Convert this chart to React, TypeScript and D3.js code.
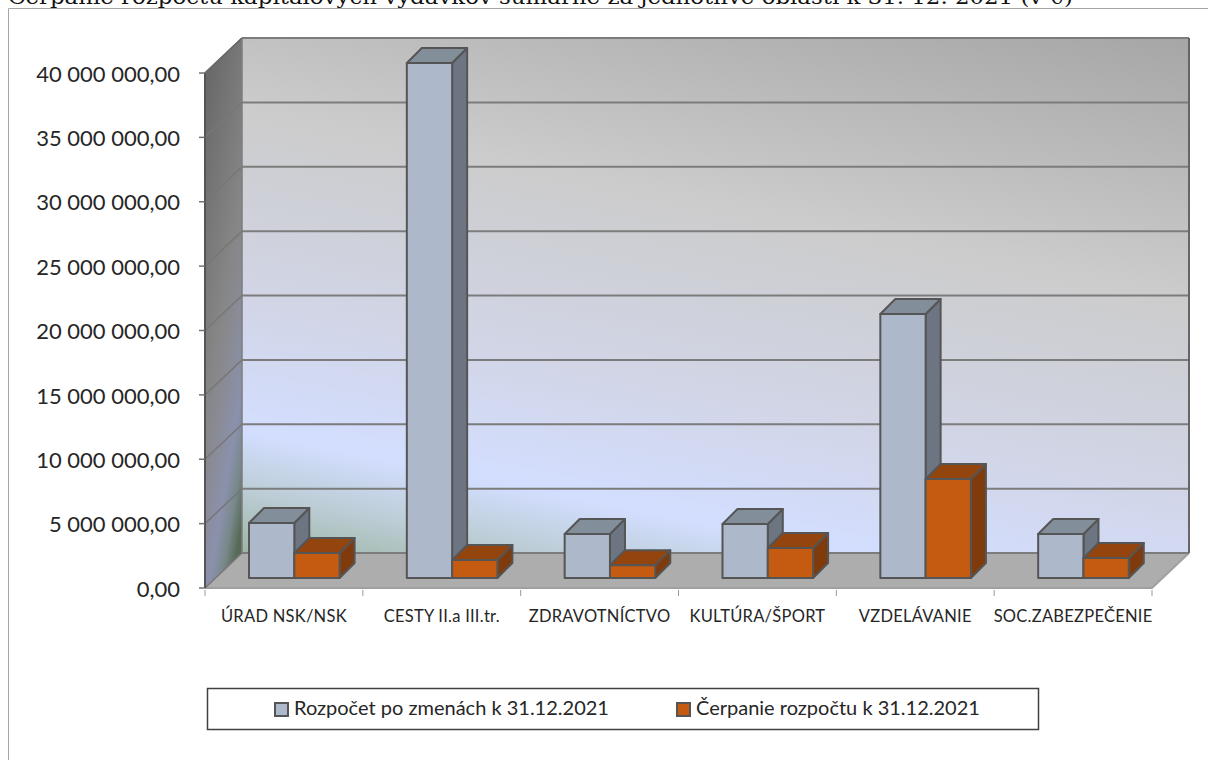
import React from "react";
import * as d3 from "d3";

const titleText = "Čerpanie rozpočtu kapitálových výdavkov sumárne za jednotlivé oblasti k 31. 12. 2021 (v €)";
const categories = ["ÚRAD NSK/NSK", "CESTY II.a III.tr.", "ZDRAVOTNÍCTVO", "KULTÚRA/ŠPORT", "VZDELÁVANIE", "SOC.ZABEZPEČENIE"];
const budget = [4270000, 40000000, 3420000, 4190000, 20500000, 3420000];
const spent = [1940000, 1400000, 1000000, 2330000, 7690000, 1550000];
const tickValues = [0, 5000000, 10000000, 15000000, 20000000, 25000000, 30000000, 35000000, 40000000];
const tickLabels = ["0,00", "5 000 000,00", "10 000 000,00", "15 000 000,00", "20 000 000,00", "25 000 000,00", "30 000 000,00", "35 000 000,00", "40 000 000,00"];
const legendLabels = ["Rozpočet po zmenách k 31.12.2021", "Čerpanie rozpočtu k 31.12.2021"];

const series = [
  { values: budget, front: "#adb9ca", top: "#838e9b", side: "#6d7582" },
  { values: spent, front: "#c55a11", top: "#94440d", side: "#7f3b0b" },
];

const y = d3.scaleLinear().domain([0, 40000000]).range([588, 73]);
const x = d3.scaleBand<string>().domain(categories).range([205, 1152]);
const wallDx = 37;
const wallDy = -35;
const barW = 45.3;
const barPad = 44;
const barLift = 10;
const depth = 15;
const sans = "Lato, 'Open Sans', sans-serif";

const pts = (a: number[][]) => a.map((p) => p.join(",")).join(" ");

export default function App() {
  const x0 = 205;
  const x1 = 1152;
  const yB = y(0);
  const yT = y(40000000);
  return (
    <svg width={1208} height={760} style={{ position: "absolute", left: 0, top: 0, background: "#fff" }}>
      <defs>
        <linearGradient id="wall" gradientUnits="userSpaceOnUse" x1={1189} y1={37} x2={1053} y2={716}>
          <stop offset="0" stopColor="#a6a6a6" />
          <stop offset="0.37" stopColor="#cccccc" />
          <stop offset="0.64" stopColor="#d1d5e6" />
          <stop offset="0.826" stopColor="#d3deff" />
          <stop offset="0.91" stopColor="#bccdd6" />
          <stop offset="1" stopColor="#9db5a3" />
        </linearGradient>
        <linearGradient id="side" x1="0.3" y1="0" x2="0.7" y2="1">
          <stop offset="0" stopColor="#6a6a6a" />
          <stop offset="0.48" stopColor="#868686" />
          <stop offset="0.65" stopColor="#8a8c98" />
          <stop offset="0.79" stopColor="#8b91ad" />
          <stop offset="0.9" stopColor="#78888a" />
          <stop offset="1" stopColor="#566a58" />
        </linearGradient>
      </defs>

      <text x={8} y={4} fontFamily="'DejaVu Serif', serif" fontSize={20} fill="#111" textLength={1065} lengthAdjust="spacingAndGlyphs">{titleText}</text>
      <path d="M8.5 760V8.5H1208" fill="none" stroke="#a6a6a6" strokeWidth={1} />

      {/* back wall */}
      <rect x={x0 + wallDx} y={yT + wallDy} width={x1 - x0} height={yB - yT} fill="url(#wall)" />
      {/* left wall */}
      <polygon points={pts([[x0, yT], [x0 + wallDx, yT + wallDy], [x0 + wallDx, yB + wallDy], [x0, yB]])} fill="url(#side)" />
      {/* floor */}
      <polygon points={pts([[x0, yB], [x0 + wallDx, yB + wallDy], [x1 + wallDx, yB + wallDy], [x1, yB]])} fill="#adadad" />
      <polyline points={pts([[x0, yB], [x1, yB], [x1 + wallDx, yB + wallDy]])} fill="none" stroke="#a0a0a0" strokeWidth={2} />

      {/* grid */}
      {tickValues.map((v) => (
        <g key={v}>
          <line x1={x0 + wallDx} x2={x1 + wallDx} y1={y(v) + wallDy} y2={y(v) + wallDy} stroke="#7c7c7c" strokeWidth={2} />
          <line x1={x0} x2={x0 + wallDx} y1={y(v)} y2={y(v) + wallDy} stroke="#777" strokeWidth={1.5} />
        </g>
      ))}
      <line x1={x0 + wallDx} x2={x0 + wallDx} y1={yT + wallDy} y2={yB + wallDy} stroke="#7c7c7c" strokeWidth={1.5} />
      <line x1={x1 + wallDx} x2={x1 + wallDx} y1={yT + wallDy} y2={yB + wallDy} stroke="#666" strokeWidth={2} />
      <line x1={x0} x2={x0} y1={yT} y2={yB} stroke="#555" strokeWidth={2} />
      <line x1={x0} x2={x0 + wallDx} y1={yT} y2={yT + wallDy} stroke="#666" strokeWidth={1.5} />

      {/* axis */}
      {tickValues.map((v, i) => (
        <g key={v}>
          <line x1={x0 - 6} x2={x0} y1={y(v)} y2={y(v)} stroke="#707070" strokeWidth={1.5} />
          <text x={x0 - 25} y={y(v) + 1} dy="0.35em" textAnchor="end" fontFamily={sans} fontSize={22} fill="#262626">{tickLabels[i]}</text>
        </g>
      ))}
      {[...categories.map((c) => x(c) as number), x1].map((t) => (
        <line key={t} x1={t} x2={t} y1={yB + 2} y2={yB + 8} stroke="#9a9a9a" />
      ))}
      {categories.map((c) => (
        <text key={c} x={(x(c) as number) + x.bandwidth() / 2} y={622} textAnchor="middle" fontFamily={sans} fontSize={16.5} letterSpacing={0.25} fill="#262626">{c}</text>
      ))}

      {/* bars */}
      {categories.map((c, ci) =>
        series.map((s, si) => {
          const l = (x(c) as number) + barPad + si * barW;
          const r = l + barW;
          const b = y(0) - barLift;
          const t = y(s.values[ci]) - barLift;
          const stroke = { stroke: "#555", strokeWidth: 2, strokeLinejoin: "round" as const };
          return (
            <g key={c + si}>
              <polygon points={pts([[r, t], [r + depth, t - depth], [r + depth, b - depth], [r, b]])} fill={s.side} {...stroke} />
              <polygon points={pts([[l, t], [l + depth, t - depth], [r + depth, t - depth], [r, t]])} fill={s.top} {...stroke} />
              <rect x={l} y={t} width={barW} height={b - t} fill={s.front} {...stroke} />
            </g>
          );
        })
      )}

      {/* legend */}
      <rect x={207.5} y={688.5} width={831} height={41} fill="#fff" stroke="#404040" strokeWidth={1.5} />
      {legendLabels.map((label, i) => {
        const lx = [275, 677][i];
        return (
          <g key={label}>
            <rect x={lx} y={703} width={13} height={13} fill={series[i].front} stroke="#555" strokeWidth={2} />
            <text x={lx + 19} y={715} fontFamily={sans} fontSize={20} fill="#262626">{label}</text>
          </g>
        );
      })}
    </svg>
  );
}
